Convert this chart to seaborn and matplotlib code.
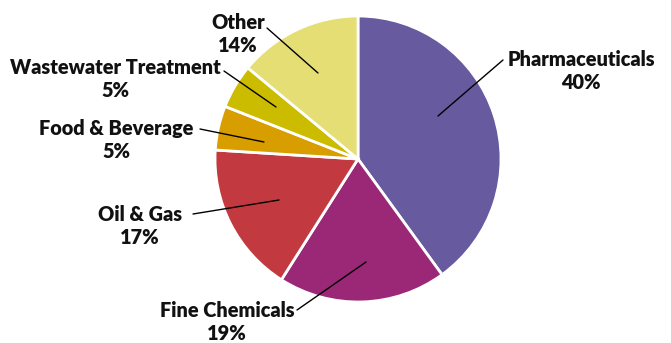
import matplotlib.pyplot as plt
import seaborn as sns

# %%
sectors = ["Pharmaceuticals", "Fine Chemicals", "Oil & Gas",
           "Food & Beverage", "Wastewater Treatment", "Other"]
shares = [40, 19, 17, 5, 5, 14]
colors = ["#675a9f", "#9b2877", "#c2393f", "#d89e00", "#ccbc00", "#e5de74"]

# label layout in pixel coords (y up): anchor in slice, line end, text centre
anchors = [(438, 227), (366, 81), (279, 143), (264, 201), (276, 236), (318, 270)]
line_ends = [(503, 283), (297, 33), (193, 129), (200, 214), (224, 272), (267, 315)]
text_pos = [(581, 272), (227, 21), (140, 117), (116, 203), (115, 264), (238, 309)]

# %%
sns.set_theme(style="white")
plt.rcParams["font.family"] = ["Lato", "DejaVu Sans"]

fig = plt.figure(figsize=(6.71, 3.43), dpi=100)
ax = fig.add_axes([0, 0, 1, 1])

ax.pie(
    shares,
    colors=colors,
    startangle=90,
    counterclock=False,
    center=(358, 184),
    radius=143,
    wedgeprops=dict(edgecolor="white", linewidth=2),
)

for name, val, a, e, t in zip(sectors, shares, anchors, line_ends, text_pos):
    ax.plot([a[0], e[0]], [a[1], e[1]], color="black", lw=1)
    ax.text(t[0], t[1], f"{name}\n{val}%", ha="center", va="center",
            fontsize=14.3, fontweight="heavy", linespacing=1.3, color="#111111")

ax.set_xlim(0, 671)
ax.set_ylim(0, 343)
ax.set_aspect("equal")
ax.axis("off")

fig.savefig("out.png", dpi=100)
